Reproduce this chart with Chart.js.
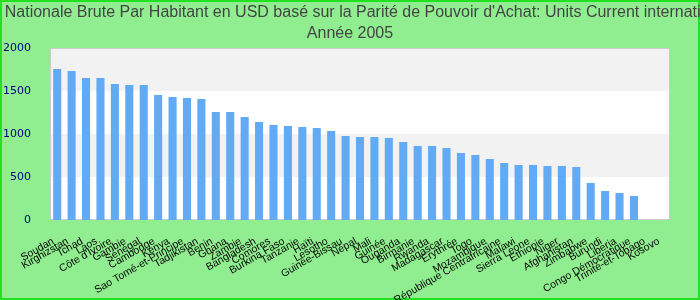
<!DOCTYPE html>
<html>
<head>
<meta charset="utf-8">
<script src="https://cdn.jsdelivr.net/npm/chart.js@4/dist/chart.umd.min.js"></script>
<style>
  body{margin:0;background:#90ee90;}
  canvas{display:block;}
</style>
</head>
<body>
<canvas id="gni-chart" width="700" height="300"></canvas>
<script>
// pays, tries par valeur decroissante
const countries = ["Soudan","Kirghizstan","Tchad","Laos","Côte d'Ivoire","Gambie","Sénégal","Cambodge","Kenya",
  "Sao Tomé-et-Principe","Tadjikistan","Benin","Ghana","Zambie","Bangladesh","Comores","Burkina Faso","Tanzanie",
  "Haïti","Lesotho","Guinée-Bissau","Népal","Mali","Guinée","Ouganda","Birmanie","Rwanda","Madagascar","Erythrée",
  "Togo","Mozambique","République Centrafricaine","Malawi","Sierra Leone","Ethiopie","Niger","Afghanistan",
  "Zimbabwe","Burundi","Liberia","Congo Démocratique","Trinité-et-Tobago","Kosovo"];
const gniPpp = [1756,1733,1651,1651,1581,1570,1570,1453,1430,1419,1407,1256,1256,1198,1140,1105,1093,1081,
  1070,1035,977,965,965,954,907,861,861,837,779,756,709,663,640,640,628,628,616,430,337,314,279,null,null];
const yTicks = [0,500,1000,1500,2000];
const titleLines = ["Revenu Nationale Brute Par Habitant en USD basé sur la Parité de Pouvoir d'Achat: Units Current international ($)","Année 2005"];

const bgPlugin = {
  id:'bg',
  beforeDraw(chart){
    const ctx=chart.ctx;
    ctx.save();
    ctx.fillStyle='#90ee90';
    ctx.fillRect(0,0,chart.width,chart.height);
    ctx.strokeStyle='#22e022';
    ctx.lineWidth=2;
    ctx.strokeRect(1,1,chart.width-2,chart.height-2);
    // titre : pas de maxWidth, il deborde comme l'original
    ctx.fillStyle='#444444';
    ctx.font='16px "Liberation Sans"';
    ctx.textAlign='center';
    ctx.textBaseline='alphabetic';
    ctx.fillText(titleLines[0],chart.width/2,17);
    ctx.fillText(titleLines[1],chart.width/2,38);
    ctx.restore();
  },
  beforeDatasetsDraw(chart){
    const ctx=chart.ctx, a=chart.chartArea, y=chart.scales.y;
    ctx.save();
    ctx.fillStyle='#ffffff';
    ctx.fillRect(a.left,a.top,a.right-a.left,a.bottom-a.top);
    ctx.fillStyle='#f2f2f2';
    for(let i=0;i<yTicks.length-1;i++){
      if(i%2==1){
        const t=y.getPixelForValue(yTicks[i+1]), b=y.getPixelForValue(yTicks[i]);
        ctx.fillRect(a.left,t,a.right-a.left,b-t);
      }
    }
    ctx.strokeStyle='#cccccc';
    ctx.lineWidth=1;
    ctx.strokeRect(a.left+0.5,a.top+0.5,a.right-a.left-1,a.bottom-a.top-1);
    ctx.restore();
  }
};

new Chart(document.getElementById('gni-chart'),{
  type:'bar',
  data:{
    labels:countries,
    datasets:[{data:gniPpp,backgroundColor:'#62aaf4',categoryPercentage:1,barPercentage:0.56}]
  },
  options:{
    responsive:false,
    animation:false,
    layout:{padding:{top:48}},
    plugins:{
      legend:{display:false},
      tooltip:{enabled:false},
      title:{display:false}
    },
    scales:{
      x:{
        grid:{display:false},
        border:{display:false},
        ticks:{autoSkip:false,maxRotation:30,minRotation:30,color:'#000000',padding:7,labelOffset:-4,
          font:{family:'Liberation Sans',size:10.5}},
        afterFit(s){s.height=80;}
      },
      y:{
        min:0,max:2000,
        grid:{display:false},
        border:{display:false},
        ticks:{stepSize:500,color:'#000080',padding:11,font:{family:'DejaVu Sans',size:11},
          callback:v=>String(v)},
        afterFit(s){s.width=50;}
      },
      yr:{
        position:'right',
        min:0,max:2000,
        grid:{display:false},
        border:{display:false},
        ticks:{display:false},
        afterFit(s){s.width=30;}
      }
    }
  },
  plugins:[bgPlugin]
});
</script>
</body>
</html>
